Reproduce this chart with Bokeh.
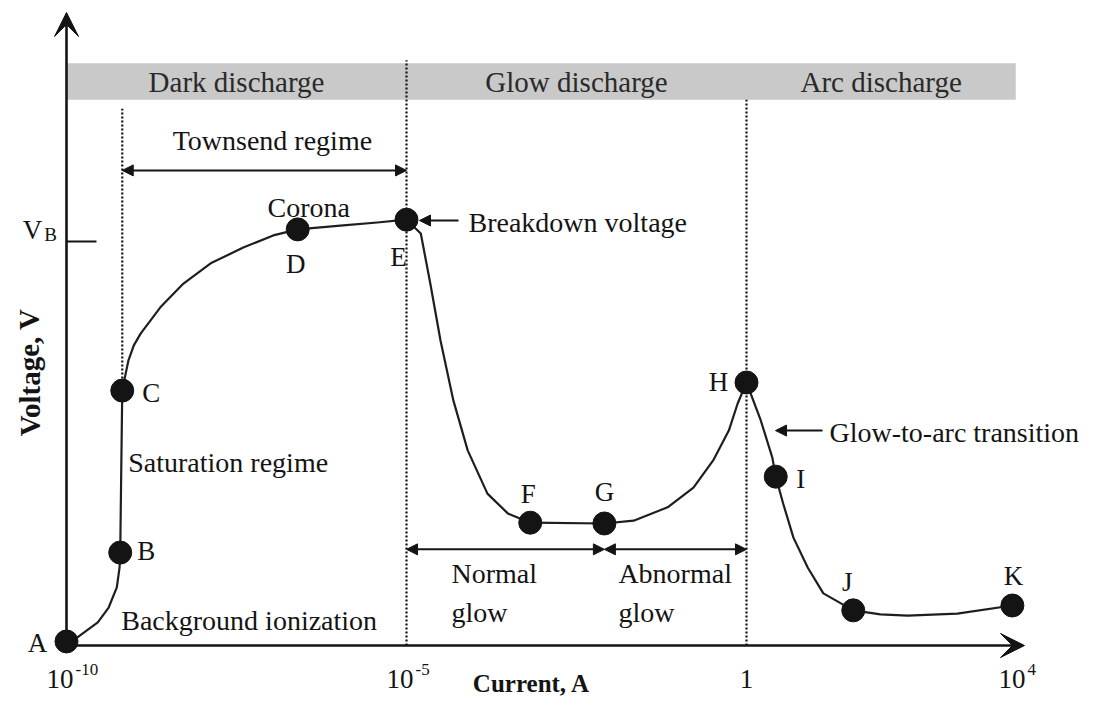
from bokeh.plotting import figure
from bokeh.models import Range1d, Arrow, NormalHead, VeeHead, Label
from bokeh.core.properties import value
from bokeh.embed import file_html
from bokeh.resources import INLINE

# ---------------- data (x: log10 of current in A, y: voltage, V_B = 100) ----------------
curve_log_current = [-10.0, -9.84, -9.54, -9.38, -9.26, -9.22, -9.21, -9.18, -9.13, -9.09,
                     -9.01, -8.91, -8.62, -8.28, -7.88, -7.40, -6.96, -6.60, -5.93, -5.43,
                     -5.0, -4.79, -4.65, -4.50, -4.31, -4.10, -3.81, -3.51, -3.18, -2.09,
                     -1.66, -1.16, -0.78, -0.49, -0.26, -0.13, 0.0, 0.21, 0.38, 0.43,
                     0.54, 0.69, 0.90, 1.13, 1.57, 1.97, 2.37, 3.10, 3.91]
curve_voltage = [1.0, 2.0, 5.7, 9.4, 14.4, 19.3, 23.0, 63.1, 67.3, 70.5,
                 74.3, 77.2, 83.7, 89.6, 94.6, 98.5, 101.5, 103.0, 104.0, 104.7,
                 105.4, 102.0, 89.6, 75.5, 60.6, 48.3, 37.6, 32.7, 30.4, 30.2,
                 30.9, 34.2, 39.1, 45.8, 53.2, 59.9, 65.1, 55.7, 46.5, 41.8,
                 35.1, 26.7, 19.3, 12.9, 8.7, 7.7, 7.4, 7.9, 9.9]

point_names = ["A", "B", "C", "D", "E", "F", "G", "H", "I", "J", "K"]
point_log_current = [-10.0, -9.21, -9.18, -6.60, -5.0, -3.18, -2.09, 0.0, 0.43, 1.57, 3.91]
point_voltage = [1.0, 23.0, 63.1, 103.0, 105.4, 30.4, 30.2, 65.1, 41.8, 8.7, 9.9]

tick_log_current = [-10, -5, 0, 4]
tick_base = ["10", "10", "1", "10"]
tick_exponent = ["-10", "-5", "", "4"]

region_names = ["Dark discharge", "Glow discharge", "Arc discharge"]
region_edges = [-10.0, -5.0, 0.0, 3.96]

townsend_start = -9.18   # current at point C
glow_split = -2.09       # current at point G
breakdown_voltage = 100.0

# ---------------- layout / scales ----------------
W, H = 1082, 701
PX_DEC = 68.0            # pixels per decade
PX_V = 4.04              # pixels per voltage unit
x0 = -10.0 - 66.0 / PX_DEC
y1 = 645.0 / PX_V
x_range = Range1d(x0, x0 + W / PX_DEC)
y_range = Range1d(y1 - H / PX_V, y1)

def dx(px):
    return px / PX_DEC

def dy(px):
    return px / PX_V

FONT = "Liberation Serif"
INK = "#141414"
FS = "28px"

p = figure(width=W, height=H, x_range=x_range, y_range=y_range,
           output_backend="svg", toolbar_location=None,
           x_axis_location=None, y_axis_location=None, min_border=0)
p.grid.visible = False
p.outline_line_color = None
p.background_fill_color = "white"
p.border_fill_color = "white"

# gray regime band
band_bottom, band_top = 135.1, 144.1
p.quad(left=[region_edges[0]], right=[region_edges[-1]], bottom=[band_bottom], top=[band_top],
       fill_color="#c9c9c9", line_color=None)
for i, name in enumerate(region_names):
    p.add_layout(Label(x=(region_edges[i] + region_edges[i + 1]) / 2, y=(band_bottom + band_top) / 2,
                       text=name, text_font=FONT, text_font_size="29px", text_color="#2a2a2a",
                       text_align="center", text_baseline="middle"))

# dotted boundaries
dash = dict(line_color="#111111", line_width=2.2, line_dash="2 2")
p.segment(x0=[townsend_start], y0=[point_voltage[2]], x1=[townsend_start], y1=[band_bottom - dy(9)], **dash)
p.segment(x0=[-5.0], y0=[0.0], x1=[-5.0], y1=[band_top + dy(3)], **dash)
p.segment(x0=[0.0], y0=[0.0], x1=[0.0], y1=[band_bottom], **dash)

# axes with arrow heads
p.add_layout(Arrow(end=VeeHead(size=24, fill_color=INK, line_color=INK),
                   x_start=-10.0, y_start=0.0, x_end=-10.0, y_end=y1 - dy(12),
                   line_color=INK, line_width=2.6))
p.add_layout(Arrow(end=VeeHead(size=24, fill_color=INK, line_color=INK),
                   x_start=-10.0, y_start=0.0, x_end=-10.0 + dx(958), y_end=0.0,
                   line_color=INK, line_width=2.6))

# V_B tick
p.segment(x0=[-10.0], y0=[breakdown_voltage], x1=[-10.0 + dx(30)], y1=[breakdown_voltage],
          line_color=INK, line_width=2)
p.add_layout(Label(x=-10.0 - dx(34), y=breakdown_voltage + dy(12), text="V", text_font=FONT,
                   text_font_size="27px", text_color=INK, text_align="center", text_baseline="middle"))
p.add_layout(Label(x=-10.0 - dx(16), y=breakdown_voltage + dy(7), text="B", text_font=FONT,
                   text_font_size="19px", text_color=INK, text_align="center", text_baseline="middle"))

# double arrows for regimes
def double_arrow(xa, xb, y):
    p.add_layout(Arrow(start=NormalHead(size=11, fill_color=INK, line_color=INK),
                       end=NormalHead(size=11, fill_color=INK, line_color=INK),
                       x_start=xa, y_start=y, x_end=xb, y_end=y, line_color=INK, line_width=2))

double_arrow(townsend_start, -5.0, 117.6)
double_arrow(-5.0, glow_split, 23.8)
double_arrow(glow_split, 0.0, 23.8)

# pointer arrows
p.add_layout(Arrow(end=NormalHead(size=11, fill_color=INK, line_color=INK),
                   x_start=-5.0 + dx(52), y_start=105.2, x_end=-5.0 + dx(13), y_end=105.2,
                   line_color=INK, line_width=2))
p.add_layout(Arrow(end=NormalHead(size=11, fill_color=INK, line_color=INK),
                   x_start=0.0 + dx(76), y_start=53.2, x_end=0.0 + dx(29), y_end=53.2,
                   line_color=INK, line_width=2))

# the characteristic curve and its points
p.line(curve_log_current, curve_voltage, line_color="#1e1e1e", line_width=2.2, line_join="round")
p.scatter(point_log_current, point_voltage, size=23, fill_color=INK, line_color=INK)

label_offsets = {  # screen px offsets (right, down)
    "A": (-29, 2), "B": (26, -2), "C": (29, 2), "D": (-2, 35), "E": (-8, 37),
    "F": (-2, -29), "G": (0, -31), "H": (-28, 0), "I": (25, 2), "J": (-6, -28), "K": (1, -30),
}
lx, ly = [], []
for n, xv, yv in zip(point_names, point_log_current, point_voltage):
    ox, oy = label_offsets[n]
    lx.append(xv + dx(ox))
    ly.append(yv - dy(oy))
p.text(x=lx, y=ly, text=point_names, text_font=value(FONT), text_font_size="27px", text_color=INK,
       text_align="center", text_baseline="middle")

# annotations
def note(x, y, t, align="left", size=FS, style="normal", angle=0.0):
    p.add_layout(Label(x=x, y=y, text=t, text_font=FONT, text_font_size=size, text_color=INK,
                       text_align=align, text_baseline="middle", text_font_style=style, angle=angle))

note((townsend_start - 5.0) / 2 + dx(8), 125.0, "Townsend regime", align="center")
note(point_log_current[3] + dx(11), 108.4, "Corona", align="center")
note(-5.0 + dx(62), 104.7, "Breakdown voltage")
note(townsend_start + dx(6), 45.3, "Saturation regime")
note(townsend_start - dx(1), 6.2, "Background ionization")
note(-5.0 + dx(45), 17.8, "Normal")
note(-5.0 + dx(45), 8.2, "glow")
note(glow_split + dx(14), 17.8, "Abnormal")
note(glow_split + dx(14), 8.2, "glow")
note(0.0 + dx(83), 52.7, "Glow-to-arc transition")

# axis titles
note(-3.16, -9.5, "Current, A", align="center", size="25px", style="bold")
note(-10.0 - dx(37), 67.6, "Voltage, V", align="center", size="29px", style="bold", angle=1.5708)

# tick labels (10 with superscript exponent)
for tv, base, ex in zip(tick_log_current, tick_base, tick_exponent):
    if ex:
        p.add_layout(Label(x=tv + dx(7), y=-8.4, text=base, text_font=FONT, text_font_size="27px",
                           text_color=INK, text_align="right", text_baseline="middle"))
        p.add_layout(Label(x=tv + dx(9), y=-6.0, text=ex, text_font=FONT, text_font_size="17px",
                           text_color=INK, text_align="left", text_baseline="middle"))
    else:
        p.add_layout(Label(x=tv, y=-8.4, text=base, text_font=FONT, text_font_size="27px",
                           text_color=INK, text_align="center", text_baseline="middle"))

open("out.html", "w").write(file_html(p, INLINE))
